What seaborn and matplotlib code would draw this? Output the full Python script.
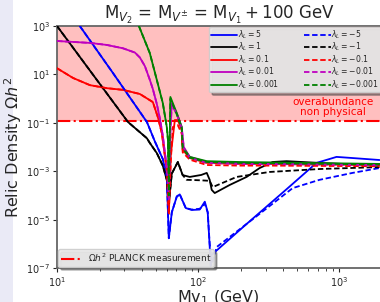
import numpy as np
import pandas as pd
import matplotlib
matplotlib.use("Agg")
import matplotlib.pyplot as plt
import seaborn as sns
from matplotlib.patches import Rectangle

# ---- data (M in GeV, relic density) ----
m_p5 = [14.5, 24.9, 43.3, 49.3, 56.1, 59.9, 61.9, 65.0, 70.5, 74.0, 81.6, 90.0, 102.5, 111.3, 116.7, 120.5, 122.5, 124.5, 220, 422, 687, 953, 1236, 1920]
o_p5 = [1000, 11.4, 0.108, 0.017, 3.2e-3, 5.8e-4, 1.7e-6, 2e-5, 9e-5, 1.1e-4, 3.0e-5, 2.5e-5, 2.6e-5, 5.5e-5, 2e-5, 8e-7, 1.2e-7, 3.5e-7, 6.6e-6, 1.8e-4, 2.2e-3, 3.9e-3, 3.5e-3, 2.9e-3]
m_m5 = [14.5, 24.9, 43.3, 49.3, 56.1, 59.9, 61.9, 65.0, 70.5, 74.0, 81.6, 90.0, 102.5, 111.3, 116.7, 120.5, 125.0, 135.2, 251, 466, 722, 1236, 1920]
o_m5 = [1000, 11.4, 0.108, 0.017, 3.2e-3, 5.8e-4, 1.7e-6, 2e-5, 9e-5, 1.1e-4, 3.0e-5, 2.6e-5, 2.8e-5, 4.5e-5, 2e-5, 1e-6, 1.5e-7, 7.4e-7, 1.2e-5, 2.0e-4, 4.4e-4, 8.5e-4, 1.35e-3]

m_p1 = [10, 31.8, 43.3, 45.4, 50.9, 56.1, 59.9, 61.9, 65.0, 71.7, 77.6, 87.1, 105, 114.9, 120.5, 124.5, 130.8, 167, 220, 272, 336, 422, 722, 1236, 1920]
o_p1 = [1000, 0.108, 0.023, 0.0147, 5.6e-3, 1.7e-3, 4.4e-4, 4.9e-5, 8e-4, 2.4e-3, 6.9e-4, 5.8e-4, 7e-4, 8.5e-4, 4.4e-4, 1.7e-4, 1.25e-4, 2.7e-4, 5.8e-4, 1.35e-3, 2.4e-3, 2.6e-3, 2.2e-3, 1.9e-3, 1.9e-3]
m_m1 = [10, 31.8, 43.3, 45.4, 50.9, 56.1, 59.9, 61.9, 65.0, 71.7, 77.6, 82.9, 105, 120.5, 126.5, 187, 320, 722, 1920]
o_m1 = [1000, 0.108, 0.023, 0.0147, 5.6e-3, 1.7e-3, 4.4e-4, 4.9e-5, 8e-4, 2.4e-3, 6.9e-4, 4.4e-4, 4.2e-4, 4.0e-4, 2.2e-4, 5.8e-4, 9.3e-4, 1.23e-3, 1.48e-3]

m_p01 = [10, 13.0, 17.1, 22.5, 29.3, 38.6, 47.7, 51.8, 55.2, 59.9, 61.9, 64.0, 68.3, 71.7, 76.4, 77.6, 87.1, 114.9, 196, 320, 1920]
o_p01 = [18, 7.1, 3.6, 2.7, 2.3, 1.55, 0.72, 0.17, 0.038, 1.1e-3, 1.7e-5, 5e-3, 0.13, 0.13, 0.05, 7.6e-3, 3.5e-3, 2.2e-3, 2.0e-3, 2.0e-3, 1.8e-3]
m_m01 = [10, 13.0, 17.1, 22.5, 29.3, 38.6, 47.7, 51.8, 55.2, 59.9, 61.9, 64.0, 66.1, 71.7, 76.4, 77.6, 87.1, 114.9, 196, 320, 1920]
o_m01 = [18, 7.1, 3.6, 2.7, 2.3, 1.55, 0.72, 0.17, 0.038, 1.1e-3, 1.7e-5, 3e-3, 0.067, 0.08, 0.035, 6e-3, 3.0e-3, 1.8e-3, 1.7e-3, 1.7e-3, 1.6e-3]

m_p001 = [10, 17.1, 22.5, 29.3, 35.6, 38.6, 41.9, 45.4, 47.7, 50.9, 53.5, 56.1, 58.0, 59.9, 61.9, 63.5, 65.0, 70.5, 76.4, 79.0, 87.1, 114.9, 196, 1920]
o_p001 = [240, 200, 165, 120, 80, 50, 22, 6, 2.5, 0.6, 0.15, 0.03, 6e-3, 1.5e-3, 6e-5, 0.05, 0.66, 0.25, 0.067, 0.01, 3.9e-3, 2.4e-3, 2.2e-3, 1.9e-3]
m_m001 = m_p001
o_m001 = [240, 200, 165, 120, 80, 50, 22, 6, 2.5, 0.6, 0.15, 0.03, 6e-3, 1.5e-3, 6e-5, 0.04, 0.55, 0.22, 0.06, 9e-3, 3.6e-3, 2.2e-3, 2.0e-3, 1.8e-3]

m_p0001 = [38, 45.4, 50.9, 56.1, 59.9, 61.0, 61.9, 63.5, 70.5, 76.4, 77.6, 87.1, 114.9, 196, 1920]
o_p0001 = [1000, 76, 5.9, 0.66, 0.067, 0.02, 1e-4, 1.17, 0.25, 0.067, 0.010, 3.9e-3, 2.6e-3, 2.4e-3, 2.0e-3]
m_m0001 = m_p0001
o_m0001 = [1000, 76, 5.9, 0.66, 0.067, 0.02, 1e-4, 1.0, 0.22, 0.06, 9e-3, 3.6e-3, 2.4e-3, 2.2e-3, 1.9e-3]

lambdas = ["5", "1", "0.1", "0.01", "0.001"]
colors = ["blue", "black", "red", "m", "green"]
pos_m = [m_p5, m_p1, m_p01, m_p001, m_p0001]
pos_o = [o_p5, o_p1, o_p01, o_p001, o_p0001]
neg_m = [m_m5, m_m1, m_m01, m_m001, m_m0001]
neg_o = [o_m5, o_m1, o_m01, o_m001, o_m0001]

planck = 0.12
xlim = (10, 2000)
ylim = (1e-7, 1e3)

sns.set_style("ticks")
plt.rcParams['font.family'] = ['DejaVu Sans']

fig = plt.figure(figsize=(3.80, 3.02), dpi=100)
fig.patches.append(Rectangle((0, 0), 13 / 380, 1, transform=fig.transFigure,
                             facecolor="#eaeaf6", edgecolor="none", zorder=-1))
ax = fig.add_axes([57 / 380, 34 / 302, 325 / 380, 242 / 302])

ax.fill_between(xlim, planck, ylim[1], color="red", alpha=0.25, lw=0, zorder=0)

handles = []
for lam, c, mm, oo in zip(lambdas, colors, pos_m, pos_o):
    sns.lineplot(x=mm, y=oo, color=c, lw=1.3, ax=ax, sort=False, zorder=3)
    handles.append(ax.lines[-1])
    handles[-1].set_label(r"$\lambda_L = %s$" % lam)
for lam, c, mm, oo in zip(lambdas, colors, neg_m, neg_o):
    sns.lineplot(x=mm, y=oo, color=c, lw=1.3, ax=ax, sort=False, zorder=3)
    ax.lines[-1].set_linestyle((0, (3, 1.5)))
    handles.append(ax.lines[-1])
    handles[-1].set_label(r"$\lambda_L = -%s$" % lam)

pl = ax.axhline(planck, color="red", ls="-.", lw=1.5, zorder=2,
                label=r"$\Omega h^2$ PLANCK measurement")

ax.set_xscale("log")
ax.set_yscale("log")
ax.set_xlim(*xlim)
ax.set_ylim(*ylim)
ax.set_yticks([1e-7, 1e-5, 1e-3, 1e-1, 1e1, 1e3])
ax.yaxis.set_minor_locator(matplotlib.ticker.NullLocator())
ax.tick_params(labelsize=7, length=3, pad=2)
ax.tick_params(which="minor", length=2)
for s in ax.spines.values():
    s.set_color("#666666")
    s.set_linewidth(1.3)

ax.text(900, 0.47, "overabundance\nnon physical", color="red", fontsize=7.5,
        ha="center", va="center", transform=ax.transData, linespacing=1.0)

ax.set_title(r"$\mathrm{M}_{V_2}$ = $\mathrm{M}_{V^{\pm}}$ = $\mathrm{M}_{V_1} + 100$ GeV",
             fontsize=12, pad=3)
ax.set_xlabel(r"Mv$_1$ (GeV)", fontsize=11.5)
ax.xaxis.set_label_coords(0.495, -0.086)
ax.set_ylabel(r"Relic Density $\Omega h^2$", fontsize=11.5)
ax.yaxis.set_label_coords(-0.102, 0.5)

leg1 = ax.legend(handles=handles, ncol=2, loc="upper right", bbox_to_anchor=(0.996, 0.997),
                 fontsize=5.6, frameon=True, shadow=True, facecolor="#ececec",
                 framealpha=0.9, handlelength=3.4, handletextpad=0.1,
                 columnspacing=3.2, labelspacing=0.0, borderpad=0.2,
                 borderaxespad=0.0)
leg1.set_zorder(10)
ax.add_artist(leg1)
leg2 = ax.legend(handles=[pl], loc="lower left", fontsize=6.5, frameon=True, shadow=True,
                 facecolor="#ececec", framealpha=0.9, borderpad=0.3, handlelength=2.5,
                 borderaxespad=0.1, handletextpad=0.5)
leg2.set_zorder(10)

fig.savefig("out.png", dpi=100)
